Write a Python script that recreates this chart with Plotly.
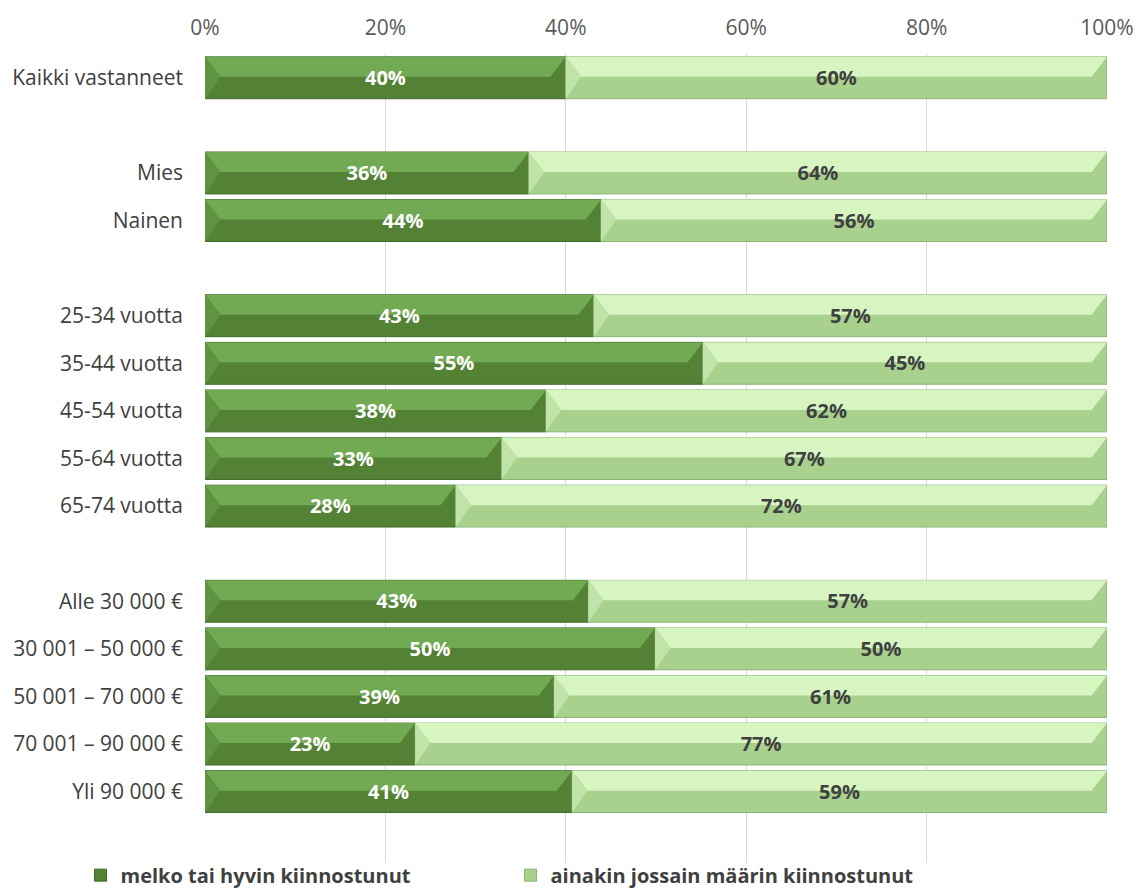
import plotly.graph_objects as go

categories = ["Kaikki vastanneet", "", "Mies", "Nainen", "",
              "25-34 vuotta", "35-44 vuotta", "45-54 vuotta", "55-64 vuotta", "65-74 vuotta", "",
              "Alle 30 000 €", "30 001 – 50 000 €", "50 001 – 70 000 €", "70 001 – 90 000 €", "Yli 90 000 €", ""]
# share of "melko tai hyvin kiinnostunut" (None = spacer row)
share_high = [40.0, None, 35.9, 43.9, None,
              43.1, 55.2, 37.8, 32.9, 27.8, None,
              42.5, 49.9, 38.7, 23.3, 40.7, None]
label_high = [40, None, 36, 44, None, 43, 55, 38, 33, 28, None, 43, 50, 39, 23, 41, None]
label_low = [60, None, 64, 56, None, 57, 45, 62, 67, 72, None, 57, 50, 61, 77, 59, None]
series_names = ["melko tai hyvin kiinnostunut", "ainakin jossain määrin kiinnostunut"]
tick_vals = [0, 20, 40, 60, 80, 100]
tick_text = ["0%", "20%", "40%", "60%", "80%", "100%"]

idx = [i for i, v in enumerate(share_high) if v is not None]
ypos = idx
hi = [share_high[i] for i in idx]
lo = [100 - share_high[i] for i in idx]
thi = [f"{label_high[i]}%" for i in idx]
tlo = [f"{label_low[i]}%" for i in idx]

W = 0.88      # bar thickness (category units)
D = 1.7       # bevel inset (axis units)
TXT_DY = 0.045  # small vertical nudge of value labels (category units)


def bevel_paths(starts, lengths, rows):
    """Top highlight band (trapezoid) and left facet (triangle) for each segment."""
    bx, by, lx, ly = [], [], [], []
    for x0, L, y in zip(starts, lengths, rows):
        x1 = x0 + L
        top, mid, bot = y - W / 2, y - 0.02, y + W / 2
        d = min(D, L / 3)
        bx += [x0, x1, x1 - d, x0 + d, x0, None]
        by += [top, top, mid, mid, top, None]
        lx += [x0, x0 + d, x0, x0, None]
        ly += [top, mid, bot, top, None]
    return bx, by, lx, ly


fig = go.Figure()
# main bars
fig.add_trace(go.Bar(y=ypos, x=hi, base=[0] * len(hi), orientation="h", width=W,
                     name=series_names[0], marker=dict(color="#548235", line=dict(color="#3f6a2a", width=1)),
                     hoverinfo="skip"))
fig.add_trace(go.Bar(y=ypos, x=lo, base=hi, orientation="h", width=W,
                     name=series_names[1], marker=dict(color="#a9d18e", line=dict(color="#8ab573", width=1)),
                     hoverinfo="skip"))

# bevel effect
for starts, lengths, band_c, facet_c in [([0] * len(hi), hi, "#72aa53", "#5e9342"),
                                          (hi, lo, "#d6f5c1", "#bfe3a8")]:
    bx, by, lx, ly = bevel_paths(starts, lengths, ypos)
    fig.add_trace(go.Scatter(x=bx, y=by, mode="lines", fill="toself", fillcolor=band_c,
                             line=dict(width=0), showlegend=False, hoverinfo="skip"))
    fig.add_trace(go.Scatter(x=lx, y=ly, mode="lines", fill="toself", fillcolor=facet_c,
                             line=dict(width=0), showlegend=False, hoverinfo="skip"))

# value labels
fig.add_trace(go.Scatter(x=[h / 2 for h in hi], y=[y + TXT_DY for y in ypos], mode="text", text=thi,
                         textfont=dict(color="white", size=20, family="Open Sans", weight="bold"),
                         showlegend=False, hoverinfo="skip"))
fig.add_trace(go.Scatter(x=[h + l / 2 for h, l in zip(hi, lo)], y=[y + TXT_DY for y in ypos],
                         mode="text", text=tlo,
                         textfont=dict(color="#404040", size=20, family="Open Sans", weight="bold"),
                         showlegend=False, hoverinfo="skip"))

fig.update_layout(
    width=1136, height=889,
    barmode="overlay",
    plot_bgcolor="white", paper_bgcolor="white",
    margin=dict(l=205, r=29, t=54, b=26, autoexpand=False),
    font=dict(family="Open Sans", color="#404040"),
    xaxis=dict(side="top", range=[0, 100], tickvals=tick_vals, ticktext=tick_text,
               showgrid=True, gridcolor="#d9d9d9", gridwidth=1, zeroline=False,
               tickfont=dict(size=21, color="#595959"), ticklabelstandoff=14,
               showline=False, fixedrange=True),
    yaxis=dict(range=[16.5, -0.5], tickvals=idx, ticktext=[categories[i] for i in idx],
               showgrid=False, zeroline=False, tickfont=dict(size=21, color="#404040"),
               ticklabelstandoff=21, ticks="", fixedrange=True),
    legend=dict(orientation="h", x=-0.138, xanchor="left", y=-0.015, yanchor="middle",
                font=dict(size=20, color="#404040", family="Open Sans", weight="bold"),
                entrywidth=385, entrywidthmode="pixels", itemwidth=30,
                bgcolor="rgba(0,0,0,0)"),
    bargap=0.12,
)

fig.write_html("out.html", post_script="document.body.style.margin='0';",
               config={"displayModeBar": False})
